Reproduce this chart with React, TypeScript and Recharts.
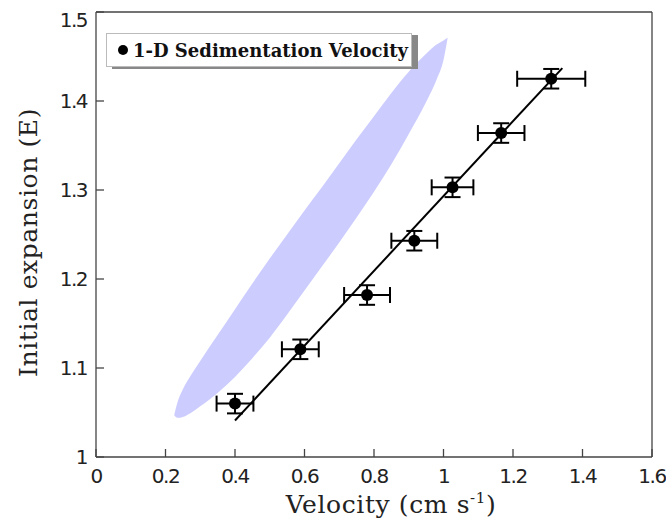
import { ComposedChart, Area, Line, Scatter, ErrorBar, XAxis, YAxis, Label } from 'recharts';

// measured points (velocity in cm/s, initial expansion E)
const velocity = [0.4, 0.588, 0.78, 0.916, 1.026, 1.166, 1.31];
const expansion = [1.06, 1.121, 1.182, 1.243, 1.303, 1.364, 1.425];
const velocityErr = [0.053, 0.053, 0.066, 0.066, 0.06, 0.067, 0.098];
const expansionErr = [0.011, 0.011, 0.011, 0.011, 0.011, 0.011, 0.011];

// fitted line end points
const fitVelocity = [0.4, 1.342];
const fitExpansion = [1.041, 1.437];

const regionVelocity = [0.225, 0.235, 0.25, 0.275, 0.3, 0.35, 0.4, 0.45, 0.5, 0.55, 0.6, 0.65, 0.7, 0.75, 0.8, 0.85, 0.9, 0.95, 0.98, 1.0, 1.012];
const regionLower = [1.047, 1.044, 1.045, 1.05, 1.057, 1.072, 1.09, 1.111, 1.134, 1.16, 1.187, 1.214, 1.241, 1.269, 1.298, 1.329, 1.363, 1.399, 1.424, 1.446, 1.471];
const regionUpper = [1.047, 1.062, 1.076, 1.093, 1.108, 1.137, 1.166, 1.195, 1.223, 1.25, 1.277, 1.303, 1.33, 1.357, 1.383, 1.409, 1.433, 1.453, 1.4635, 1.468, 1.471];

const xTicks = [0, 0.2, 0.4, 0.6, 0.8, 1, 1.2, 1.4, 1.6];
const yTicks = [1, 1.1, 1.2, 1.3, 1.4, 1.5];

const legendLabel = '1-D Sedimentation Velocity';

const points = velocity.map((v, i) => ({ x: v, y: expansion[i], ex: velocityErr[i], ey: expansionErr[i] }));
const fit = fitVelocity.map((v, i) => ({ x: v, fit: fitExpansion[i] }));
const region = regionVelocity.map((v, i) => ({ x: v, band: [regionLower[i], regionUpper[i]] }));

const AXIS = '#444';
const tickFont = { fontFamily: 'DejaVu Sans', fontSize: 20, letterSpacing: -1.5, fill: '#222' };
const titleFont = { fontFamily: 'DejaVu Serif', fontSize: 25, letterSpacing: 0.6, fill: '#222' };

function XTitle(props: any) {
  const { x, y, width } = props.viewBox;
  return (
    <text x={x + width / 2 + 17} y={y + 56} textAnchor="middle" style={titleFont}>
      Velocity (cm s
      <tspan dy={-10} fontSize={15}>-1</tspan>
      <tspan dy={10}>)</tspan>
    </text>
  );
}

// the top label sits a little below its tick in the original
function YTick(props: any) {
  const { x, y, payload, index } = props;
  const shift = index === yTicks.length - 1 ? 8 : 0;
  return (
    <text x={x} y={y + shift} dy="0.355em" textAnchor="end" style={tickFont}>
      {String(payload.value)}
    </text>
  );
}

const dot = (p: any) => <circle cx={p.cx} cy={p.cy} r={6} fill="#000" />;

export default function App() {
  return (
    <div style={{ position: 'absolute', left: 0, top: 0, width: 666, height: 524 }}>
      <ComposedChart width={666} height={524} margin={{ top: 8, right: 0, bottom: 0, left: 8 }}>
        <XAxis
          type="number"
          dataKey="x"
          domain={[0, 1.6]}
          ticks={xTicks}
          interval={0}
          height={67}
          tickSize={-8}
          tickMargin={20}
          stroke={AXIS}
          strokeWidth={1.3}
          tick={tickFont}
          tickFormatter={(v: number) => String(v)}
        >
          <Label content={<XTitle />} />
        </XAxis>
        <XAxis
          xAxisId="top"
          orientation="top"
          type="number"
          domain={[0, 1.6]}
          ticks={xTicks}
          interval={0}
          height={4}
          tickSize={-8}
          tick={false}
          stroke={AXIS}
          strokeWidth={1.3}
        />
        <YAxis
          type="number"
          domain={[1, 1.5]}
          ticks={yTicks}
          interval={0}
          width={88}
          tickSize={-8}
          tickMargin={17}
          stroke={AXIS}
          strokeWidth={1.3}
          tick={<YTick />}
          label={{ value: 'Initial expansion (E)', angle: -90, position: 'center', dx: -24, dy: 8, style: titleFont }}
        />
        <YAxis
          yAxisId="right"
          orientation="right"
          type="number"
          domain={[1, 1.5]}
          ticks={yTicks}
          interval={0}
          width={14}
          tickSize={-8}
          tick={false}
          stroke={AXIS}
          strokeWidth={1.3}
        />
        <Area
          data={region}
          dataKey="band"
          type="monotone"
          fill="#ccccff"
          fillOpacity={1}
          stroke="none"
          isAnimationActive={false}
        />
        <Line
          data={fit}
          dataKey="fit"
          type="linear"
          stroke="#000"
          strokeWidth={2}
          dot={false}
          isAnimationActive={false}
        />
        <Scatter data={points} dataKey="y" name={legendLabel} shape={dot} isAnimationActive={false}>
          <ErrorBar dataKey="ex" direction="x" width={8} stroke="#000" strokeWidth={2} />
          <ErrorBar dataKey="ey" direction="y" width={8} stroke="#000" strokeWidth={2} />
        </Scatter>
      </ComposedChart>
      <div
        style={{
          position: 'absolute',
          left: 106,
          top: 33,
          width: 304,
          height: 32,
          border: '1px solid #bbb',
          background: '#fff',
          boxShadow: '6px 2px 0 #888',
          display: 'flex',
          alignItems: 'center',
          fontFamily: 'DejaVu Serif',
          fontWeight: 'bold',
          fontSize: 18,
          color: '#111',
          whiteSpace: 'nowrap',
        }}
      >
        <span style={{ display: 'inline-block', width: 10, height: 10, borderRadius: 5, background: '#000', marginLeft: 11, marginRight: 5 }} />
        <span>{legendLabel}</span>
      </div>
    </div>
  );
}
